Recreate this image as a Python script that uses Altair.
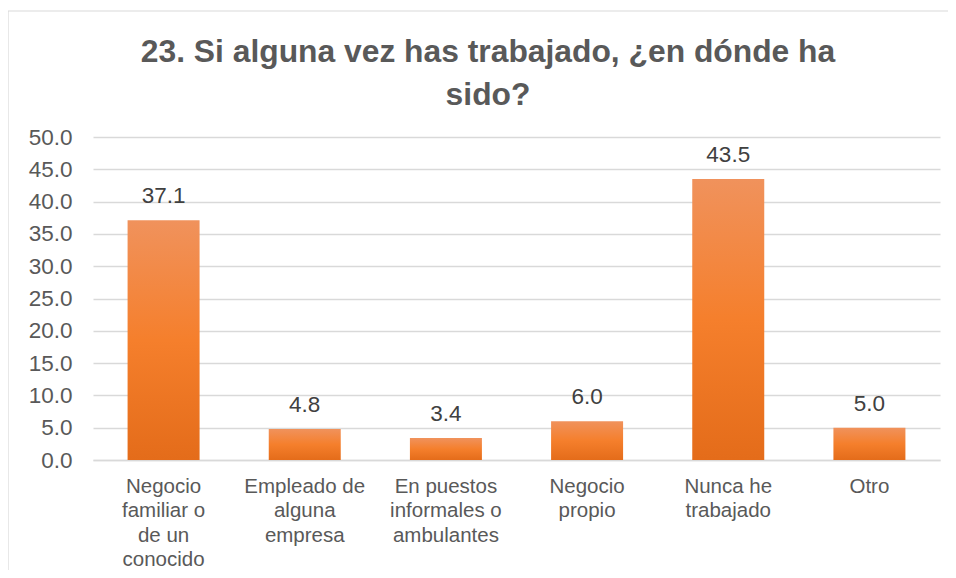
import altair as alt
import pandas as pd

categories = [
    "Negocio\nfamiliar o\nde un\nconocido",
    "Empleado de\nalguna\nempresa",
    "En puestos\ninformales o\nambulantes",
    "Negocio\npropio",
    "Nunca he\ntrabajado",
    "Otro",
]
values = [37.1, 4.8, 3.4, 6.0, 43.5, 5.0]
y_ticks = [0, 5, 10, 15, 20, 25, 30, 35, 40, 45, 50]
title_lines = ["23. Si alguna vez has trabajado, ¿en dónde ha", "sido?"]

df = pd.DataFrame({"cat": categories, "val": values})
title_df = pd.DataFrame({"t": ["\n".join(title_lines)]})

FONT = "Liberation Sans"
GRAY = "#595959"

grad = alt.Gradient(
    gradient="linear",
    stops=[
        alt.GradientStop(color="#F0925C", offset=0),
        alt.GradientStop(color="#F57F2C", offset=0.5),
        alt.GradientStop(color="#E46C1A", offset=1),
    ],
    x1=0, x2=0, y1=0, y2=1,
)

x_enc = alt.X(
    "cat:N",
    sort=categories,
    title=None,
    scale=alt.Scale(paddingInner=0.49, paddingOuter=0.245),
    axis=alt.Axis(
        labelAngle=0,
        labelExpr="split(datum.label, '\\n')",
        labelFont=FONT,
        labelFontSize=20.5,
        labelColor=GRAY,
        labelLineHeight=24.5,
        labelPadding=32,
        labelBaseline="alphabetic",
        ticks=False,
        domainColor="#D9D9D9",
        domainWidth=1.5,
        labelLimit=200,
    ),
)

y_axis = alt.Axis(
    values=y_ticks,
    tickCount=50,
    format=".1f",
    labelFont=FONT,
    labelFontSize=22.5,
    labelColor=GRAY,
    labelPadding=21,
    labelOverlap=False,
    labelFlush=False,
    ticks=False,
    domain=False,
    gridColor="#D9D9D9",
    gridWidth=1.5,
)
y_scale = alt.Scale(domain=[0, 50], nice=False)

bars = alt.Chart(df).mark_bar(color=grad).encode(
    x=x_enc, y=alt.Y("val:Q", title=None, scale=y_scale, axis=y_axis)
)

labels = alt.Chart(df).mark_text(
    baseline="alphabetic", dy=-17, font=FONT, fontSize=22.5, color="#404040"
).encode(
    x=x_enc,
    y=alt.Y("val:Q", title=None, scale=y_scale, axis=y_axis),
    text=alt.Text("val:Q", format=".1f"),
)

frame = alt.Chart(title_df).mark_rect(
    fill=None, stroke="#D9D9D9", strokeWidth=1.2
).encode(
    x=alt.value(-85), x2=alt.value(900), y=alt.value(-126), y2=alt.value(500)
)

title = alt.Chart(title_df).mark_text(
    font=FONT, fontSize=31.8, fontWeight="bold", color=GRAY,
    align="center", baseline="alphabetic", lineBreak="\n", lineHeight=43,
).encode(x=alt.value(395), y=alt.value(-75.5), text="t:N")

chart = (
    alt.layer(frame, bars, labels, title)
    .properties(
        width=847,
        height=323,
        padding={"left": 85, "top": 129, "right": 8, "bottom": 110},
        autosize=alt.AutoSizeParams(type="none"),
    )
    .configure_view(stroke=None)
    .configure_axis(labelOverlap=False)
)

chart.save("out.html", embed_options={"renderer": "svg", "actions": False})
